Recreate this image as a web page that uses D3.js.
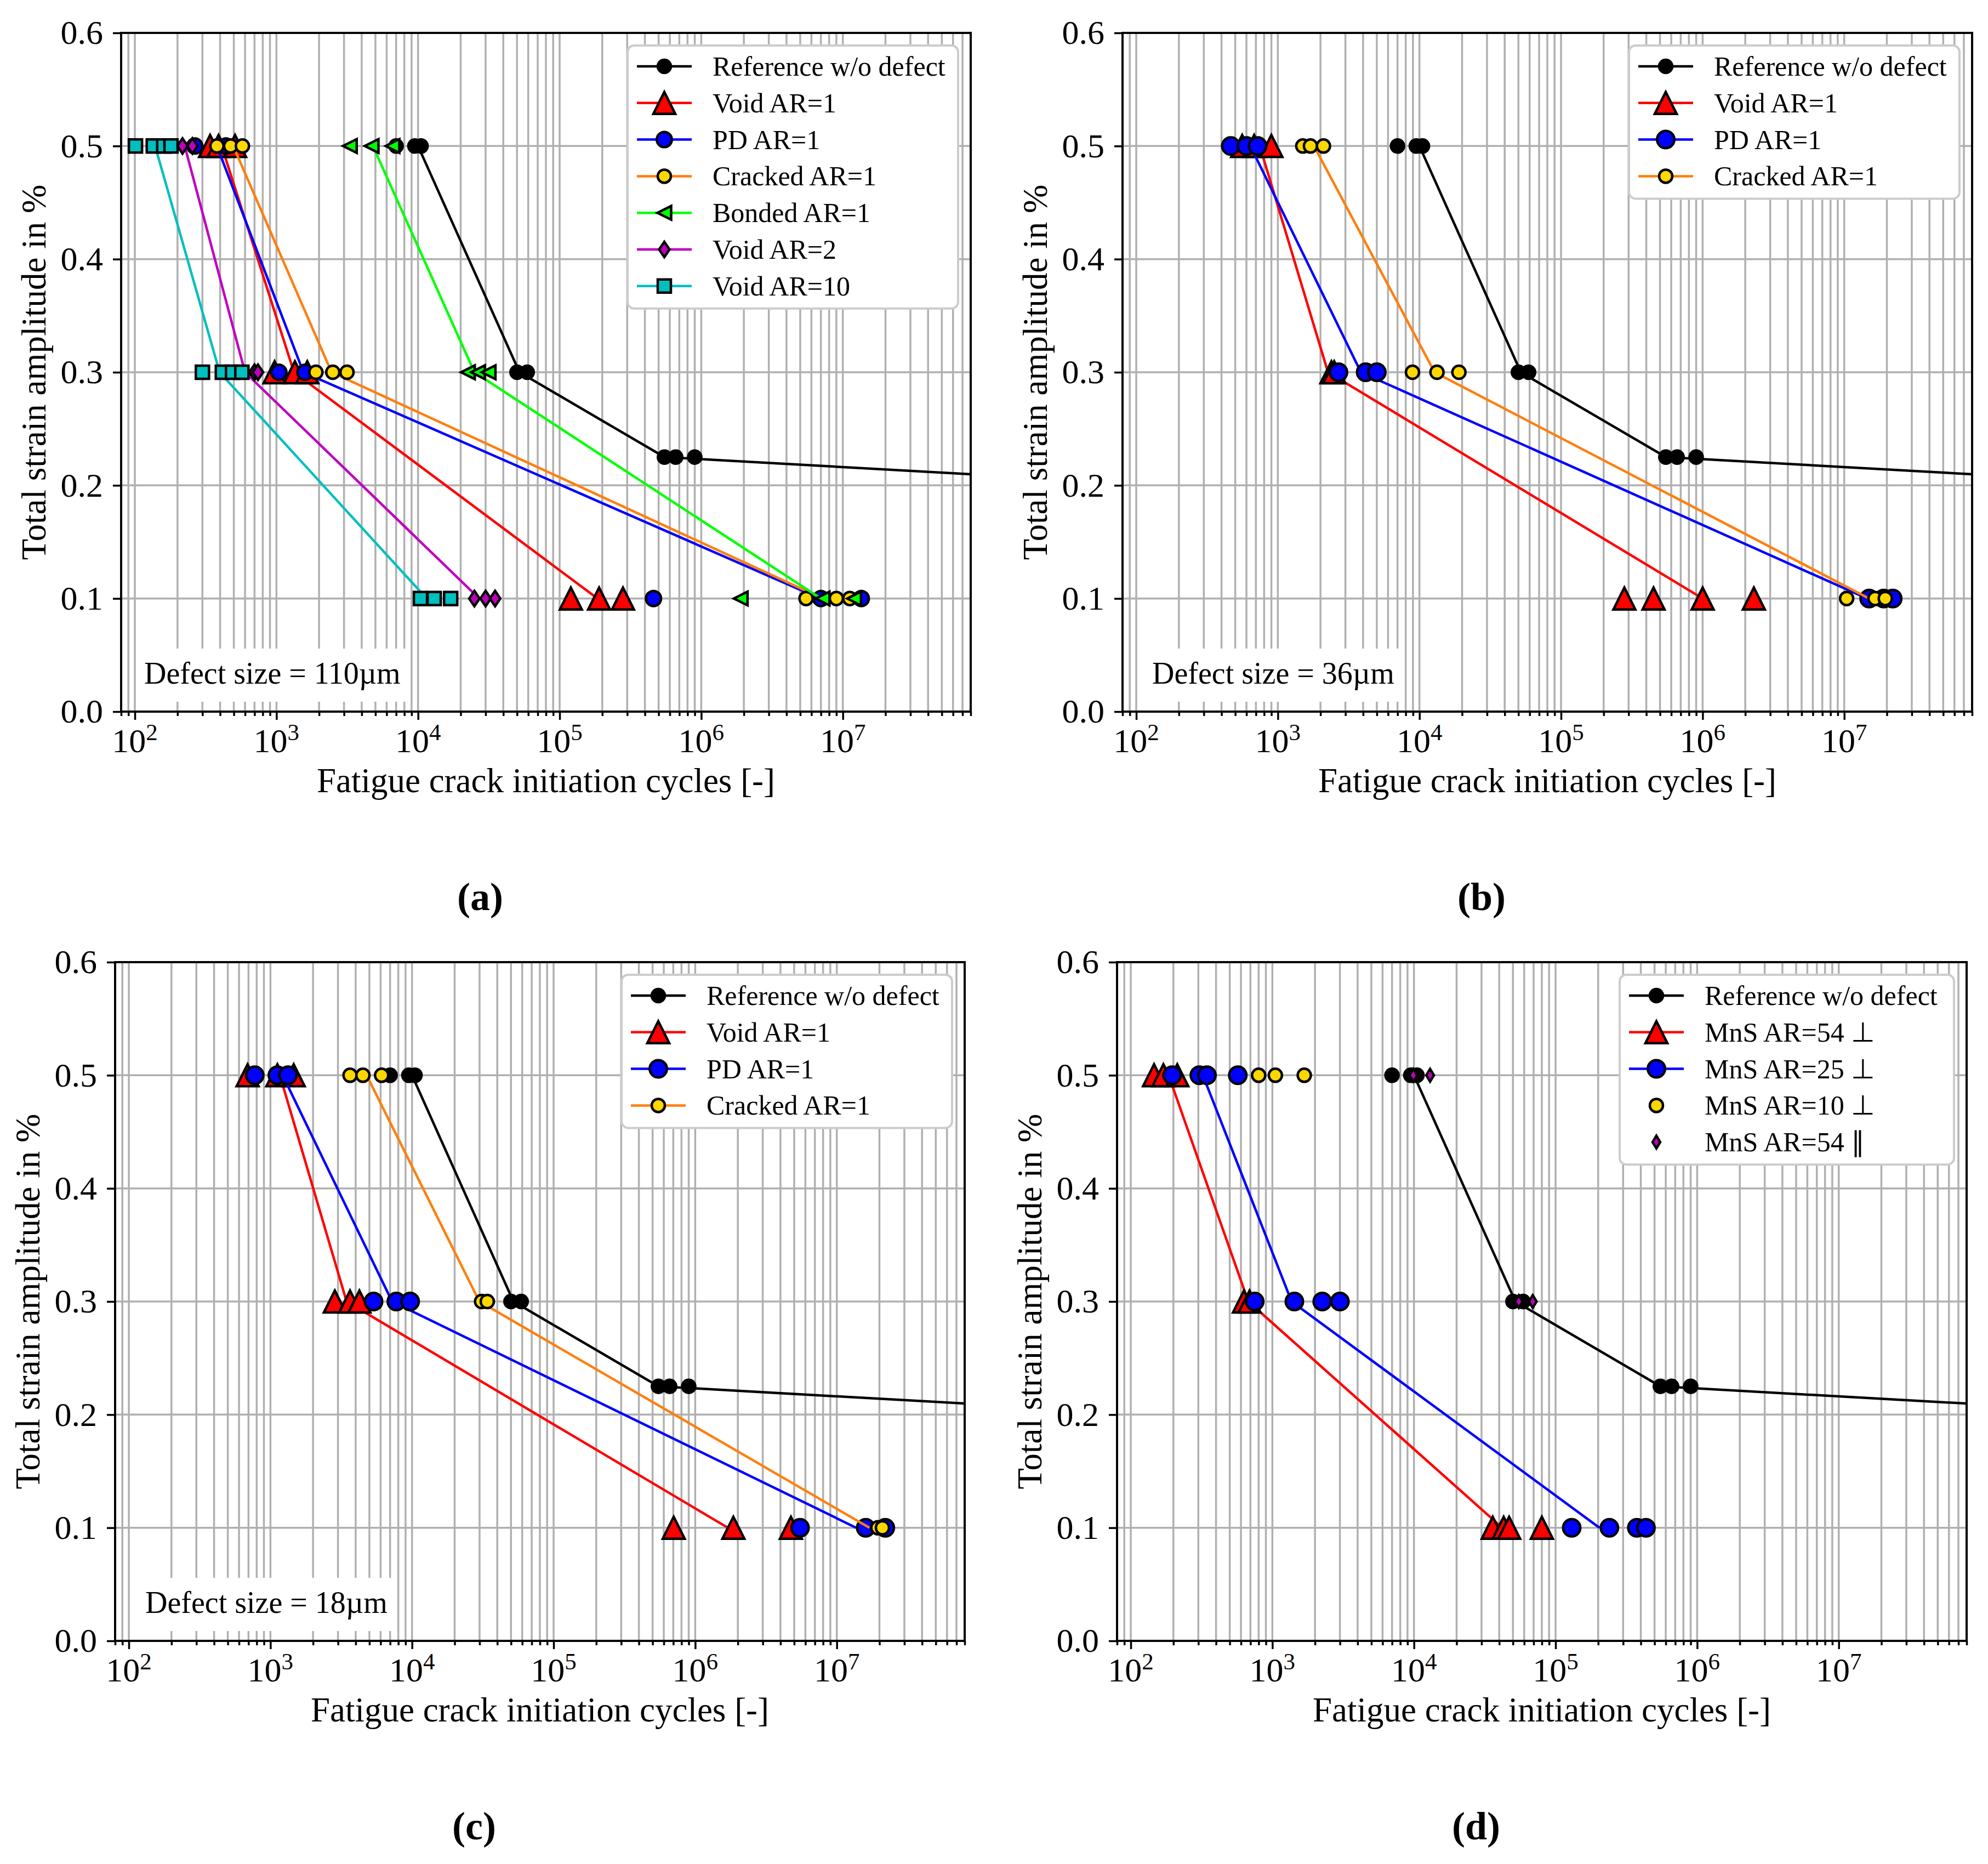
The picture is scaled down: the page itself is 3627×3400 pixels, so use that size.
<!DOCTYPE html>
<html>
<head>
<meta charset="utf-8">
<script src="https://cdn.jsdelivr.net/npm/d3@7"></script>
<style>
  body { margin: 0; background: #fff; }
  svg { display: block; }
  text { font-family: "Liberation Serif", "Times New Roman", serif; fill: #000; }
</style>
</head>
<body>
<svg id="fig" width="3627" height="3400"></svg>
<script>
/* global d3 */

// ---- data: [cycles, strain amplitude %] ----
const xDomain = [80, 8e7];
const yDomain = [0, 0.6];
const yTicks = [0, 0.1, 0.2, 0.3, 0.4, 0.5, 0.6];

// reference (same in all four panels)
const refPts = [[7000, 0.5], [9500, 0.5], [10500, 0.5], [50000, 0.3], [59000, 0.3],
  [550000, 0.225], [660000, 0.225], [900000, 0.225]];
const refLine = [[10000, 0.5], [52000, 0.3], [550000, 0.225], [2e9, 0.2]];

// panel (a), defect size 110 um
const aVoid1Pts = [[340, 0.5], [390, 0.5], [510, 0.5], [970, 0.3], [1350, 0.3], [1650, 0.3],
  [1.2e5, 0.1], [1.9e5, 0.1], [2.8e5, 0.1]];
const aVoid1Line = [[410, 0.5], [1330, 0.3], [1.85e5, 0.1]];
const aPdPts = [[265, 0.5], [440, 0.5], [1040, 0.3], [1590, 0.3], [4.6e5, 0.1], [7e6, 0.1], [1.35e7, 0.1]];
const aPdLine = [[380, 0.5], [1550, 0.3], [6.9e6, 0.1]];
const aCrackedPts = [[380, 0.5], [475, 0.5], [575, 0.5], [1900, 0.3], [2500, 0.3], [3150, 0.3],
  [5.5e6, 0.1], [9e6, 0.1], [1.12e7, 0.1]];
const aCrackedLine = [[495, 0.5], [2450, 0.3], [7.2e6, 0.1]];
const aBondedPts = [[3300, 0.5], [4700, 0.5], [6600, 0.5], [22500, 0.3], [26500, 0.3], [31500, 0.3],
  [1.9e6, 0.1], [7.2e6, 0.1], [1.2e7, 0.1]];
const aBondedLine = [[4800, 0.5], [25000, 0.3], [7e6, 0.1]];
const aVoid2Pts = [[217, 0.5], [255, 0.5], [700, 0.3], [740, 0.3], [25000, 0.1], [30000, 0.1], [35000, 0.1]];
const aVoid2Line = [[225, 0.5], [600, 0.3], [27000, 0.1]];
const aVoid10Pts = [[101, 0.5], [135, 0.5], [160, 0.5], [180, 0.5], [300, 0.3], [415, 0.3], [490, 0.3],
  [570, 0.3], [10400, 0.1], [13000, 0.1], [17000, 0.1]];
const aVoid10Line = [[139, 0.5], [397, 0.3], [11500, 0.1]];

// panel (b), defect size 36 um
const bVoid1Pts = [[560, 0.5], [680, 0.5], [900, 0.5], [2390, 0.3], [2500, 0.3],
  [2.8e5, 0.1], [4.5e5, 0.1], [1.0e6, 0.1], [2.3e6, 0.1]];
const bVoid1Line = [[745, 0.5], [2260, 0.3], [1e6, 0.1]];
const bPdPts = [[465, 0.5], [600, 0.5], [720, 0.5], [2680, 0.3], [4170, 0.3], [5000, 0.3],
  [1.5e7, 0.1], [1.9e7, 0.1], [2.2e7, 0.1]];
const bPdLine = [[640, 0.5], [3860, 0.3], [1.45e7, 0.1]];
const bCrackedPts = [[1500, 0.5], [1700, 0.5], [2100, 0.5], [8930, 0.3], [13300, 0.3], [19000, 0.3],
  [1.04e7, 0.1], [1.65e7, 0.1], [1.95e7, 0.1]];
const bCrackedLine = [[1800, 0.5], [12800, 0.3], [1.5e7, 0.1]];

// panel (c), defect size 18 um
const cVoid1Pts = [[690, 0.5], [1120, 0.5], [1460, 0.5], [2850, 0.3], [3650, 0.3], [4250, 0.3],
  [7.05e5, 0.1], [1.86e6, 0.1], [4.74e6, 0.1]];
const cVoid1Line = [[1166, 0.5], [3450, 0.3], [1.7e6, 0.1]];
const cPdPts = [[775, 0.5], [1120, 0.5], [1330, 0.5], [5350, 0.3], [7750, 0.3], [9700, 0.3],
  [5.5e6, 0.1], [1.6e7, 0.1], [2.2e7, 0.1]];
const cPdLine = [[1220, 0.5], [7230, 0.3], [1.37e7, 0.1]];
const cCrackedPts = [[3650, 0.5], [4500, 0.5], [6100, 0.5], [31000, 0.3], [34000, 0.3],
  [1.95e7, 0.1], [2.1e7, 0.1]];
const cCrackedLine = [[4780, 0.5], [29900, 0.3], [1.7e7, 0.1]];

// panel (d), MnS inclusions
const dAr54PerpPts = [[146, 0.5], [170, 0.5], [213, 0.5], [630, 0.3], [690, 0.3],
  [36000, 0.1], [43000, 0.1], [47000, 0.1], [80000, 0.1]];
const dAr54PerpLine = [[185, 0.5], [676, 0.3], [42000, 0.1]];
const dAr25PerpPts = [[196, 0.5], [305, 0.5], [345, 0.5], [570, 0.5], [750, 0.3], [1430, 0.3],
  [2250, 0.3], [3000, 0.3], [1.3e5, 0.1], [2.4e5, 0.1], [3.75e5, 0.1], [4.35e5, 0.1]];
const dAr25PerpLine = [[323, 0.5], [1367, 0.3], [2.04e5, 0.1]];
const dAr10PerpPts = [[800, 0.5], [1050, 0.5], [1680, 0.5]];
const dAr54ParPts = [[9900, 0.5], [13000, 0.5], [55000, 0.3], [69000, 0.3]];

// ---- styles ----
const st = {
  ref: { color: '#000000', shape: 'circle', fill: '#000000', size: 12 },
  void1: { color: '#ff0000', shape: 'triangle', fill: '#ff0000', size: 40 },
  pd: { color: '#0000ff', shape: 'circle', fill: '#0000ff', size: 15.75 },
  pdSmall: { color: '#0000ff', shape: 'circle', fill: '#0000ff', size: 13.75 },
  cracked: { color: '#ff7f0e', shape: 'circle', fill: '#ffd700', size: 12 },
  bonded: { color: '#00ff00', shape: 'triLeft', fill: '#00ff00', size: 25 },
  void2: { color: '#bf00bf', shape: 'diamond', fill: '#bf00bf', size: [9.5, 14] },
  void10: { color: '#00bfbf', shape: 'square', fill: '#00bfbf', size: 24 },
  mns10: { color: null, shape: 'circle', fill: '#ffd700', size: 12 },
  mnsPar: { color: null, shape: 'diamond', fill: '#bf00bf', size: [7, 11.5] },
};

const panels = [
  {
    left: 221, top: 60, caption: '(a)', defect: 'Defect size = 110µm', defectDx: 42, legW: 603,
    series: [
      { label: 'Reference w/o defect', s: st.ref, pts: refPts, line: refLine },
      { label: 'Void AR=1', s: st.void1, pts: aVoid1Pts, line: aVoid1Line },
      { label: 'PD AR=1', s: st.pdSmall, pts: aPdPts, line: aPdLine },
      { label: 'Cracked AR=1', s: st.cracked, pts: aCrackedPts, line: aCrackedLine },
      { label: 'Bonded AR=1', s: st.bonded, pts: aBondedPts, line: aBondedLine },
      { label: 'Void AR=2', s: st.void2, pts: aVoid2Pts, line: aVoid2Line },
      { label: 'Void AR=10', s: st.void10, pts: aVoid10Pts, line: aVoid10Line },
    ],
  },
  {
    left: 2048, top: 60, caption: '(b)', defect: 'Defect size = 36µm', defectDx: 54, legW: 603,
    series: [
      { label: 'Reference w/o defect', s: st.ref, pts: refPts, line: refLine },
      { label: 'Void AR=1', s: st.void1, pts: bVoid1Pts, line: bVoid1Line },
      { label: 'PD AR=1', s: st.pd, pts: bPdPts, line: bPdLine },
      { label: 'Cracked AR=1', s: st.cracked, pts: bCrackedPts, line: bCrackedLine },
    ],
  },
  {
    left: 210, top: 1755, caption: '(c)', defect: 'Defect size = 18µm', defectDx: 55, legW: 603,
    series: [
      { label: 'Reference w/o defect', s: st.ref, pts: refPts, line: refLine },
      { label: 'Void AR=1', s: st.void1, pts: cVoid1Pts, line: cVoid1Line },
      { label: 'PD AR=1', s: st.pd, pts: cPdPts, line: cPdLine },
      { label: 'Cracked AR=1', s: st.cracked, pts: cCrackedPts, line: cCrackedLine },
    ],
  },
  {
    left: 2038, top: 1755, caption: '(d)', defect: null, defectDx: 0, legW: 610,
    series: [
      { label: 'Reference w/o defect', s: st.ref, pts: refPts, line: refLine },
      { label: 'MnS AR=54 ⊥', s: st.void1, pts: dAr54PerpPts, line: dAr54PerpLine },
      { label: 'MnS AR=25 ⊥', s: st.pd, pts: dAr25PerpPts, line: dAr25PerpLine },
      { label: 'MnS AR=10 ⊥', s: st.mns10, pts: dAr10PerpPts, line: null },
      { label: 'MnS AR=54 ∥', s: st.mnsPar, pts: dAr54ParPts, line: null },
    ],
  },
];

// ---- drawing ----
const svg = d3.select('#fig');
const axW = 1550;
const axH = 1238;
const gridColor = '#b0b0b0';

function markerPath(shape, size) {
  if (shape === 'circle') {
    const r = size;
    return `M${r},0A${r},${r} 0 1,1 ${-r},0A${r},${r} 0 1,1 ${r},0Z`;
  }
  if (shape === 'triangle') {
    const h = size / 2;
    return `M0,${-h}L${h},${h}L${-h},${h}Z`;
  }
  if (shape === 'triLeft') {
    const h = size / 2;
    return `M${-h},0L${h},${-h}L${h},${h}Z`;
  }
  if (shape === 'square') {
    const h = size / 2;
    return `M${-h},${-h}H${h}V${h}H${-h}Z`;
  }
  // thin diamond
  const [w, h] = size;
  return `M0,${-h}L${w},0L0,${h}L${-w},0Z`;
}

function drawMarker(sel, s, cx, cy) {
  sel.append('path')
    .attr('d', markerPath(s.shape, s.size))
    .attr('transform', `translate(${cx},${cy})`)
    .attr('fill', s.fill)
    .attr('stroke', '#000')
    .attr('stroke-width', 4.5)
    .attr('stroke-linejoin', 'miter');
}

panels.forEach((p, idx) => {
  const g = svg.append('g').attr('transform', `translate(${p.left},${p.top})`);
  const x = d3.scaleLog().domain(xDomain).range([0, axW]);
  const y = d3.scaleLinear().domain(yDomain).range([axH, 0]);

  const allTicks = x.ticks();
  const isMajor = (v) => Math.abs(Math.log10(v) - Math.round(Math.log10(v))) < 1e-9;
  const majors = allTicks.filter(isMajor);
  const minors = allTicks.filter((v) => !isMajor(v));

  const clipId = `clip${idx}`;
  g.append('clipPath').attr('id', clipId)
    .append('rect').attr('width', axW).attr('height', axH);

  // grid
  const grid = g.append('g');
  grid.selectAll('.vg').data(allTicks).enter().append('line')
    .attr('x1', (d) => x(d)).attr('x2', (d) => x(d))
    .attr('y1', 0).attr('y2', axH)
    .attr('stroke', gridColor).attr('stroke-width', 3.5);
  grid.selectAll('.hg').data(yTicks).enter().append('line')
    .attr('x1', 0).attr('x2', axW)
    .attr('y1', (d) => y(d)).attr('y2', (d) => y(d))
    .attr('stroke', gridColor).attr('stroke-width', 3.5);

  // defect size box
  if (p.defect) {
    const box = g.append('g');
    const rect = box.append('rect');
    const t = box.append('text')
      .attr('x', p.defectDx)
      .attr('y', axH - 51)
      .attr('font-size', 56)
      .text(p.defect);
    const bb = t.node().getBBox();
    rect.attr('x', p.defectDx - 13).attr('y', axH - 115)
      .attr('width', bb.width + 30).attr('height', 97)
      .attr('rx', 10).attr('fill', '#fff');
  }

  // data
  const data = g.append('g').attr('clip-path', `url(#${clipId})`);
  const lineGen = d3.line().x((d) => x(d[0])).y((d) => y(d[1]));
  p.series.forEach((ser) => {
    if (ser.line) {
      data.append('path')
        .attr('d', lineGen(ser.line))
        .attr('fill', 'none')
        .attr('stroke', ser.s.color)
        .attr('stroke-width', 4.5);
    }
    ser.pts.forEach((d) => drawMarker(data, ser.s, x(d[0]), y(d[1])));
  });

  // spines
  g.append('rect')
    .attr('width', axW).attr('height', axH)
    .attr('fill', 'none').attr('stroke', '#000').attr('stroke-width', 4);

  // x axis: major and minor ticks
  const xMaj = g.append('g').attr('transform', `translate(0,${axH})`)
    .call(d3.axisBottom(x).tickValues(majors).tickSize(15).tickFormat(''));
  const xMin = g.append('g').attr('transform', `translate(0,${axH})`)
    .call(d3.axisBottom(x).tickValues(minors).tickSize(8).tickFormat(''));
  [xMaj, xMin].forEach((a) => {
    a.select('.domain').remove();
    a.selectAll('.tick line').attr('stroke', '#000').attr('stroke-width', 3.5);
  });
  majors.forEach((v) => {
    const t = g.append('text')
      .attr('x', x(v)).attr('y', axH + 74)
      .attr('text-anchor', 'middle')
      .attr('font-size', 62);
    t.append('tspan').text('10');
    t.append('tspan').attr('dy', -22).attr('font-size', 43).text(Math.round(Math.log10(v)));
  });

  // y axis
  const yAx = g.append('g')
    .call(d3.axisLeft(y).tickValues(yTicks).tickSize(15).tickPadding(18).tickFormat(d3.format('.1f')));
  yAx.select('.domain').remove();
  yAx.selectAll('.tick line').attr('stroke', '#000').attr('stroke-width', 3.5);
  yAx.selectAll('.tick text')
    .attr('font-size', 62)
    .attr('font-family', '"Liberation Serif", serif')
    .attr('fill', '#000');

  // axis labels
  g.append('text')
    .attr('x', axW / 2).attr('y', axH + 147)
    .attr('text-anchor', 'middle')
    .attr('font-size', 63)
    .text('Fatigue crack initiation cycles [-]');
  g.append('text')
    .attr('transform', `translate(-138,${axH / 2}) rotate(-90)`)
    .attr('text-anchor', 'middle')
    .attr('font-size', 63)
    .text('Total strain amplitude in %');

  // legend
  const n = p.series.length;
  const rowH = 66.8;
  const legX = axW - 23 - p.legW;
  const leg = g.append('g').attr('transform', `translate(${legX},23)`);
  leg.append('rect')
    .attr('width', p.legW).attr('height', 38 + (n - 1) * rowH + 41)
    .attr('rx', 12)
    .attr('fill', '#fff').attr('stroke', '#cccccc').attr('stroke-width', 4);
  p.series.forEach((ser, i) => {
    const cy = 38 + i * rowH;
    if (ser.line) {
      leg.append('line')
        .attr('x1', 17).attr('x2', 117).attr('y1', cy).attr('y2', cy)
        .attr('stroke', ser.s.color).attr('stroke-width', 4.5);
    }
    drawMarker(leg, ser.s, 67, cy);
    leg.append('text')
      .attr('x', 155).attr('y', cy + 17)
      .attr('font-size', 50)
      .text(ser.label);
  });

  // caption
  svg.append('text')
    .attr('x', p.left + 655).attr('y', p.top + axH + 362)
    .attr('text-anchor', 'middle')
    .attr('font-size', 72)
    .attr('font-weight', 'bold')
    .text(p.caption);
});
</script>
</body>
</html>
